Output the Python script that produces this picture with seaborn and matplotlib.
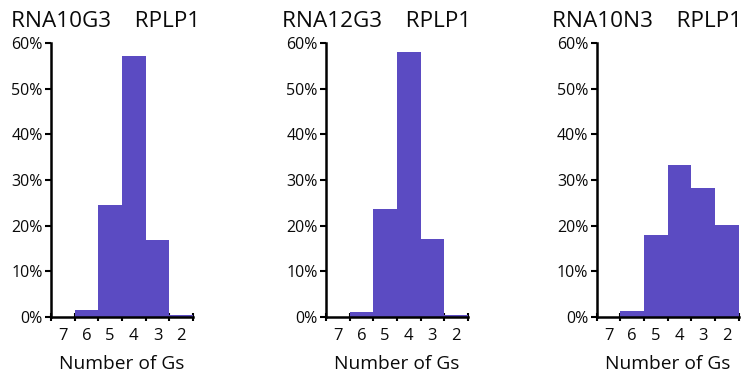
import matplotlib
matplotlib.use("Agg")
import matplotlib.pyplot as plt
from matplotlib.ticker import PercentFormatter, FixedLocator, NullFormatter
import seaborn as sns
import pandas as pd

categories = ["7", "6", "5", "4", "3", "2"]
titles = ["RNA10G3    RPLP1", "RNA12G3    RPLP1", "RNA10N3    RPLP1"]
rna10g3 = [0.0, 1.5, 24.6, 57.1, 16.8, 0.5]
rna12g3 = [0.0, 1.1, 23.7, 58.0, 17.0, 0.5]
rna10n3 = [0.0, 1.3, 17.9, 33.3, 28.2, 20.2]
series = [rna10g3, rna12g3, rna10n3]
yticks = [0, 10, 20, 30, 40, 50, 60]

sns.set_theme(style="white")
plt.rcParams["font.family"] = ["Open Sans", "DejaVu Sans"]

bar_color = "#5b4bc2"
text_color = "#0a0a0a"
fig = plt.figure(figsize=(7.46, 3.74), dpi=100)
lefts = [51 / 746, 326 / 746, 596.7 / 746]
title_x = [11 / 746, 282 / 746, 552 / 746]
width = 142 / 746
bottom = 1 - 317 / 374
height = (317 - 43) / 374

for left, tx, vals, title in zip(lefts, title_x, series, titles):
    ax = fig.add_axes([left, bottom, width, height])
    df = pd.DataFrame({"g": categories, "pct": vals})
    sns.barplot(data=df, x="g", y="pct", order=categories, color=bar_color,
                width=1.0, linewidth=0, saturation=1, ax=ax)
    ax.set_xlim(-0.5, len(categories) - 0.5)
    ax.set_ylim(0, 60)
    ax.set_yticks(yticks)
    ax.yaxis.set_major_formatter(PercentFormatter(decimals=0))
    # tick marks at category boundaries, labels at centres
    ax.xaxis.set_major_locator(FixedLocator([i - 0.5 for i in range(len(categories) + 1)]))
    ax.xaxis.set_major_formatter(NullFormatter())
    ax.xaxis.set_minor_locator(FixedLocator(list(range(len(categories)))))
    ax.set_xticklabels(categories, minor=True)
    ax.tick_params(axis="x", which="major", direction="inout", length=6, width=1.5, color="black", bottom=True)
    ax.tick_params(axis="x", which="minor", length=0, labelsize=12, pad=8, bottom=True,
                   labelcolor=text_color)
    ax.tick_params(axis="y", direction="out", length=4, width=1.5, color="black", labelsize=11.5, pad=2,
                   left=True, labelcolor=text_color)
    for s in ["top", "right"]:
        ax.spines[s].set_visible(False)
    for s in ["left", "bottom"]:
        ax.spines[s].set_color("black")
        ax.spines[s].set_linewidth(1.8)
    ax.set_xlabel("Number of Gs", fontsize=13.8, labelpad=8, color=text_color)
    ax.set_ylabel("")
    fig.text(tx, 1 - 27 / 374, title, fontsize=16.2,
             ha="left", va="baseline", color=text_color)

fig.savefig("out.png", dpi=100)
